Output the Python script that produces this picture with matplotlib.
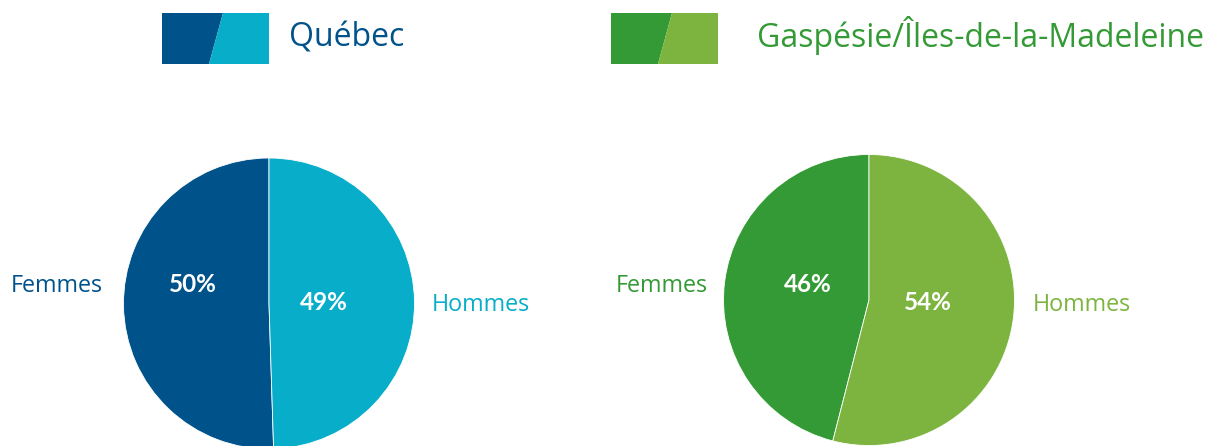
import matplotlib.pyplot as plt
from matplotlib.patches import Polygon

# données
regions = ["Québec", "Gaspésie/Îles-de-la-Madeleine"]
categories = ["Femmes", "Hommes"]
quebec = [50, 49]
gaspesie = [46, 54]
pct_quebec = ["50%", "49%"]
pct_gaspesie = ["46%", "54%"]

plt.rcParams['font.family'] = ['Open Sans', 'DejaVu Sans']

H = 446  # hauteur en pixels, axe y vers le haut


def y(p):
    return H - p


fig = plt.figure(figsize=(12.1, 4.46), dpi=100)
ax = fig.add_axes([0, 0, 1, 1])

panels = [
    # valeurs, pcts, couleurs (femmes, hommes), centre, positions des textes
    (quebec, pct_quebec, ("#00538a", "#07adc9"), (269, 303.5),
     (11, 292), (432, 311), (193, 292), (324, 310), (162, 269, 223, 209), 289),
    (gaspesie, pct_gaspesie, ("#349a35", "#7cb43f"), (869, 300),
     (616, 292), (1033, 311), (808, 292), (928, 310), (611, 718, 672, 658), 757),
]

for i, (vals, pcts, cols, c, fpos, hpos, p1, p2, icon, tx) in enumerate(panels):
    ax.pie(vals, colors=cols, startangle=90, counterclock=True,
           center=(c[0], y(c[1])), radius=145.5,
           wedgeprops=dict(linewidth=0.6, edgecolor="white"))
    # étiquettes
    ax.text(fpos[0], y(fpos[1]), categories[0], color=cols[0], fontsize=16.8,
            ha="left", va="baseline")
    ax.text(hpos[0], y(hpos[1]), categories[1], color=cols[1], fontsize=16.8,
            ha="left", va="baseline")
    ax.text(p1[0], y(p1[1]), pcts[0], color="white", fontsize=17.5,
            fontweight="bold", family=["Lato", "DejaVu Sans"],
            ha="center", va="baseline")
    ax.text(p2[0], y(p2[1]), pcts[1], color="white", fontsize=17.5,
            fontweight="bold", family=["Lato", "DejaVu Sans"],
            ha="center", va="baseline")
    # icône de légende
    x0, x1, xt, xb = icon
    ax.add_patch(Polygon([(x0, y(13)), (xt, y(13)), (xb, y(64)), (x0, y(64))],
                         closed=True, color=cols[0], lw=0))
    ax.add_patch(Polygon([(xt, y(13)), (x1, y(13)), (x1, y(64)), (xb, y(64))],
                         closed=True, color=cols[1], lw=0))
    ax.text(tx, y(47), regions[i], color=cols[0], fontsize=23,
            ha="left", va="baseline")

ax.set_xlim(0, 1210)
ax.set_ylim(0, H)
ax.set_aspect("equal")
ax.axis("off")

plt.savefig("out.png", dpi=100)
plt.close()
